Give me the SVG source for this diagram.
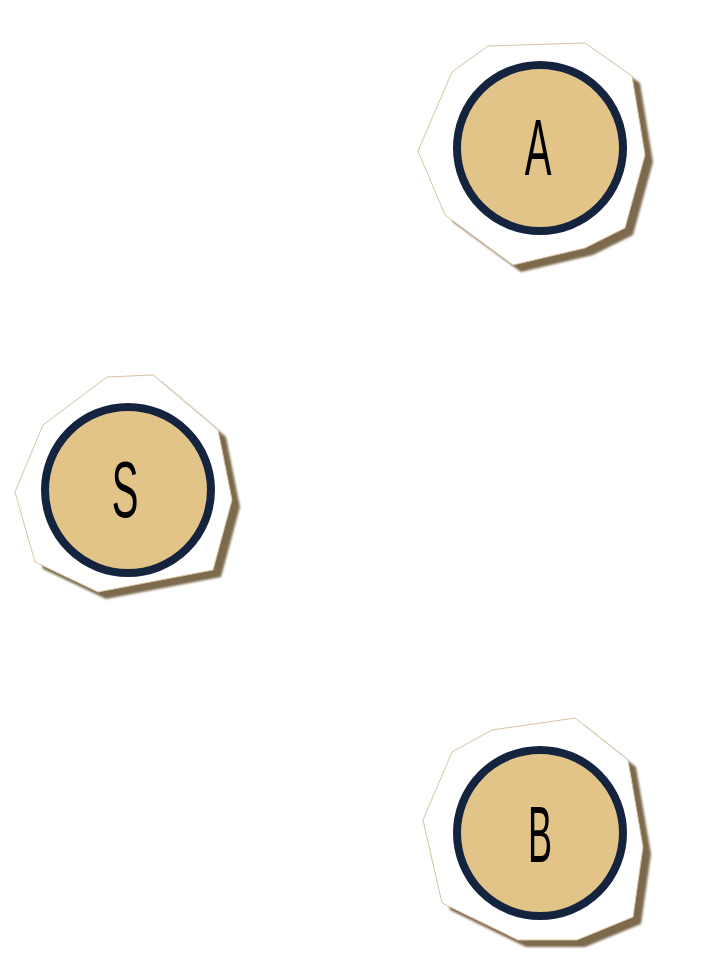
<svg xmlns="http://www.w3.org/2000/svg" xmlns:xlink="http://www.w3.org/1999/xlink" width="720" height="976" viewBox="0 0 720 976">
<style>
.shadow{fill:#7d6a4e;}
.plate{fill:#ffffff;stroke:#d8c4a4;stroke-width:1;}
.disc{fill:#e2c488;stroke:#14243f;stroke-width:8;}
.lbl{font-family:"Liberation Sans","DejaVu Sans",sans-serif;font-size:80px;fill:#000;text-anchor:middle;}
</style>
<defs>
<filter id="soft" x="-10%" y="-10%" width="120%" height="120%"><feGaussianBlur stdDeviation="1"/></filter>
</defs>
<rect width="720" height="976" fill="#ffffff"/>
<g id="connectors"/>
<g id="node-A">
<polygon class="shadow" filter="url(#soft)" transform="translate(8,7)" points="488,46 585,43 632,76 645,155 625,228 585,248 513,265 445,215 418,151 452,72"/>
<polygon class="plate" points="488,46 585,43 632,76 645,155 625,228 585,248 513,265 445,215 418,151 452,72"/>
<circle class="disc" cx="540" cy="148" r="83"/>
<text class="lbl" transform="translate(538,175) scale(0.5,1)">A</text>
</g>
<g id="node-S">
<polygon class="shadow" filter="url(#soft)" transform="translate(8,7)" points="107,377 153,375 218,430 232,500 213,570 98,592 35,562 15,492 43,425"/>
<polygon class="plate" points="107,377 153,375 218,430 232,500 213,570 98,592 35,562 15,492 43,425"/>
<circle class="disc" cx="128" cy="490" r="83"/>
<text class="lbl" transform="translate(125,517) scale(0.5,1)">S</text>
</g>
<g id="node-B">
<polygon class="shadow" filter="url(#soft)" transform="translate(8,7)" points="492,730 575,718 628,760 643,847 633,917 577,940 518,940 442,903 423,820 452,752"/>
<polygon class="plate" points="492,730 575,718 628,760 643,847 633,917 577,940 518,940 442,903 423,820 452,752"/>
<circle class="disc" cx="540" cy="833" r="83"/>
<text class="lbl" transform="translate(540,862) scale(0.45,1)">B</text>
</g>
</svg>
